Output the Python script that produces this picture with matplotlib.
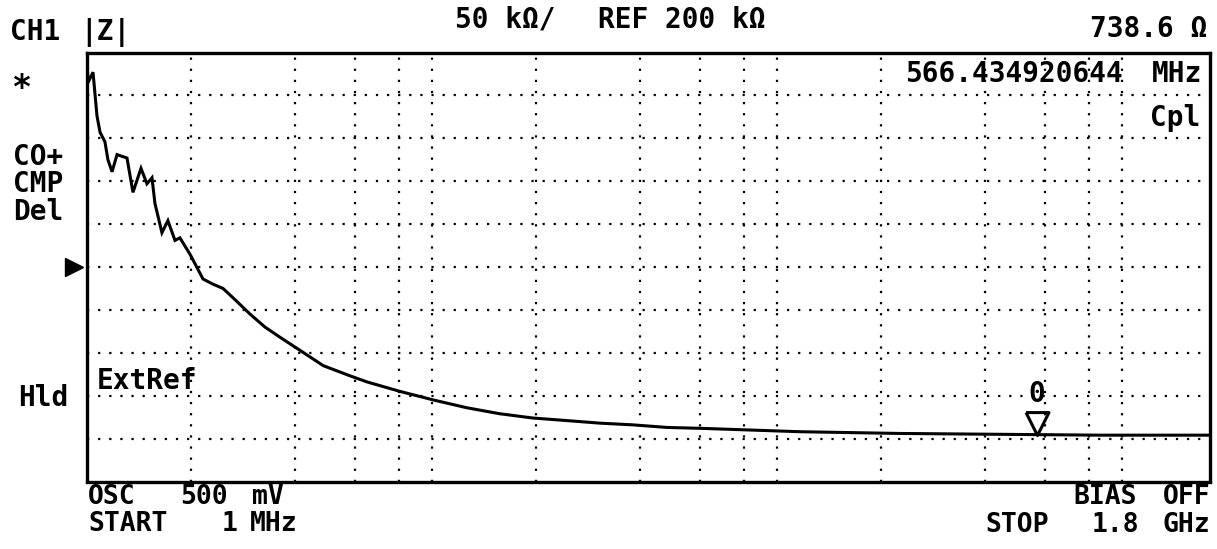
import matplotlib
matplotlib.use("Agg")
import matplotlib.pyplot as plt
import numpy as np
from matplotlib.path import Path
from matplotlib.ticker import NullLocator
from matplotlib.transforms import blended_transform_factory

plt.rcParams["font.family"] = "DejaVu Sans Mono"
plt.rcParams["font.weight"] = "bold"

# sweep settings (MHz) and |Z| scale (kOhm)
start_mhz = 1.0
stop_mhz = 1800.0
ref_kohm = 200.0
div_kohm = 50.0
grid_mhz = [2, 4, 6, 8, 10, 20, 40, 60, 80, 100, 200, 400, 600, 800, 1000]

# trace
freq_mhz = [1.0, 1.007, 1.041, 1.069, 1.091, 1.127, 1.150, 1.182, 1.222, 1.306,
            1.359, 1.434, 1.492, 1.543, 1.574, 1.649, 1.716, 1.799, 1.859, 1.988,
            2.169, 2.318, 2.479, 2.685, 2.971, 3.28, 3.63, 4.14, 4.84, 5.80,
            6.49, 8.08, 10.1, 12.6, 15.7, 19.6, 24.6, 30.7, 38.3, 48.0,
            59.8, 117, 227, 443, 863, 1800]
z_kohm = [440, 415, 427, 376, 357, 346, 325, 311, 331, 327,
          287, 315, 297, 304, 274, 240, 254, 231, 234, 215,
          186, 180, 175, 162, 145, 130, 118, 103, 85, 73,
          66, 55, 45, 36, 29, 24, 21, 18, 16, 13,
          12, 8, 6, 5, 4, 4]

marker_mhz = 566.434920644
marker_text = "738.6 \u03a9"

W, H = 1217, 549
fig = plt.figure(figsize=(W / 100, H / 100), dpi=100)
ax = fig.add_axes([87 / W, 1 - 481.5 / H, (1210 - 87) / W, 429 / H])

ax.plot(freq_mhz, z_kohm, color="black", lw=2.2, solid_joinstyle="miter")

ax.set_xscale("log")
ax.set_xlim(start_mhz, stop_mhz)
ax.set_ylim(ref_kohm - 5 * div_kohm, ref_kohm + 5 * div_kohm)
ax.set_xticks(grid_mhz)
ax.xaxis.set_minor_locator(NullLocator())
ax.set_yticks([ref_kohm + k * div_kohm for k in range(-4, 5)])
ax.tick_params(which="both", length=0, labelbottom=False, labelleft=False)
ax.grid(True, color="black", linestyle=(0, (1, 4)), linewidth=1.6)
for s in ax.spines.values():
    s.set_linewidth(2.4)

# reference position arrow on the left edge
trans = blended_transform_factory(ax.transAxes, ax.transData)
ax.plot([-0.012], [ref_kohm], marker=">", ms=13, color="black",
        transform=trans, clip_on=False)

# marker 0
z_mk = np.interp(np.log10(marker_mhz), np.log10(freq_mhz), z_kohm)
tri = Path([(-0.5, 1), (0.5, 1), (0, 0), (-0.5, 1)])
ax.plot([marker_mhz], [z_mk], marker=tri, ms=33, mfc="none", mec="black",
        mew=2.2, linestyle="none")
ax.annotate("0", xy=(marker_mhz, z_mk), xytext=(0, 29.5),
            textcoords="offset points", ha="center", va="center", fontsize=20)


def put(s, x, y, ha="left", size=20):
    fig.text(x / W, 1 - y / H, s, ha=ha, va="center", fontsize=size)


put("CH1", 10, 32.5)
put("|Z|", 80, 32.5)
put("*", 12, 88.5, size=24)
put("CO+", 13, 156.5)
put("CMP", 13, 184.5)
put("Del", 13, 212.5)
put("Hld", 18, 397.5)

put("50 k\u03a9/", 455, 19.5)
put("REF 200 k\u03a9", 598, 19.5)
put(marker_text, 1207, 29, ha="right")

put("566.434920644", 905, 74)
put("MHz", 1202, 74, ha="right")
put("Cpl", 1200, 118, ha="right")
put("ExtRef", 97, 381)

put("OSC", 88, 496.5, size=19)
put("500", 180, 496.5, size=19)
put("mV", 252, 496.5, size=19)
put("START", 88, 524, size=19)
put("1", 222, 524, size=19)
put("MHz", 250, 524, size=19)

put("BIAS", 1073, 497.5, size=19)
put("OFF", 1210, 497.5, ha="right", size=19)
put("STOP", 985, 525, size=19)
put("1.8", 1092, 525, size=19)
put("GHz", 1210, 525, ha="right", size=19)

fig.savefig("out.png", dpi=100)
